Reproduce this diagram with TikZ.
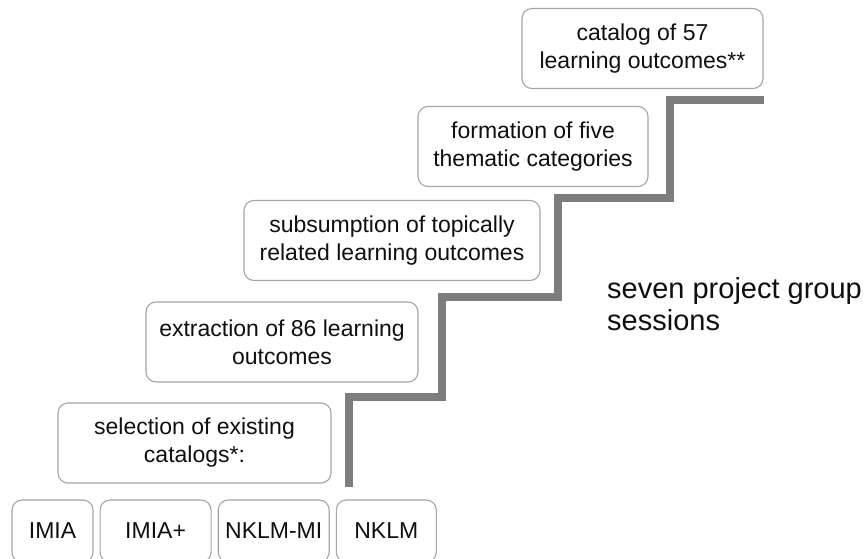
\documentclass[tikz,border=0pt]{standalone}
\usepackage{fontspec}
\setmainfont{Liberation Sans}
\usetikzlibrary{positioning}
\definecolor{StairGray}{RGB}{125,125,125}
\definecolor{BoxLine}{RGB}{165,165,165}
\definecolor{TextDark}{RGB}{15,15,15}

\begin{document}
\begin{tikzpicture}[
    x=1pt, y=-1pt,
    font=\fontsize{23}{28}\selectfont, text=TextDark,
    box/.style={draw=BoxLine, line width=1.1pt, rounded corners=10pt, align=center,
                inner sep=0pt, minimum height=80pt},
    cat/.style={box, minimum height=62pt},
    stair/.style={StairGray, line width=7.5pt, line join=miter},
    lbl/.style={font=\fontsize{29}{32}\selectfont, align=left, inner sep=0pt, anchor=west}
  ]
    \useasboundingbox (0,0) rectangle (864,559);

    % Steps, bottom to top
    \node[box, minimum width=273pt] (sel)  at (194.5,443) {selection of existing\\catalogs*:};
    \node[box, minimum width=272pt] (ext)  at (282,342)   {extraction of 86 learning\\outcomes};
    \node[box, minimum width=296pt] (sub)  at (392,240.5) {subsumption of topically\\related learning outcomes};
    \node[box, minimum width=230pt] (form) at (533,146.5) {formation of five\\thematic categories};
    \node[box, minimum width=241pt] (cat57) at (642.5,48.5) {catalog of 57\\learning outcomes**};

    % Existing catalogs
    \node[cat, minimum width=81pt]  (imia) at (52.5,531) {IMIA};
    \node[cat, minimum width=111pt, right=6pt of imia]  (imiap)  {IMIA+};
    \node[cat, minimum width=111pt, right=6pt of imiap] (nklmmi) {NKLM-MI};
    \node[cat, minimum width=100pt, right=6pt of nklmmi] (nklm) {NKLM};

    % Staircase
    \draw[stair] (349,487) -- (349,397) -- (442,397) -- (442,297) -- (558,297)
                 -- (558,198) -- (670,198) -- (670,100) -- (764,100);

    % Label
    \node[lbl] (sessions) at (607,304) {seven project group\\sessions};
  \end{tikzpicture}
\end{document}
